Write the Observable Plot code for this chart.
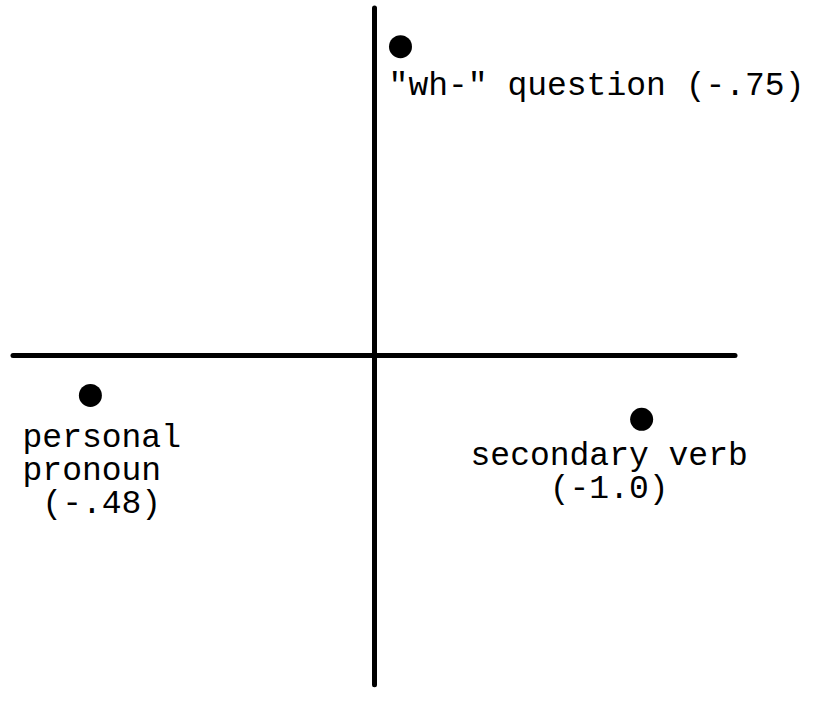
<!DOCTYPE html>
<html>
<head>
<meta charset="utf-8">
<script src="https://cdn.jsdelivr.net/npm/d3@7"></script>
<script src="https://cdn.jsdelivr.net/npm/@observablehq/plot@0.6"></script>
<style>
  html, body { margin: 0; padding: 0; background: #fff; }
  #chart svg { display: block; }
</style>
</head>
<body>
<div id="chart"></div>
<script>
// Factor-space positions of the features (arbitrary units, axes cross at 0,0)
const features = ["\"wh-\" question", "personal pronoun", "secondary verb"];
const loadings = ["-.75", "-.48", "-1.0"];
const featureX = [0.072, -0.787, 0.74];
const featureY = [0.89, -0.115, -0.184];
// label anchor positions (same units) and label text lines
const labelX = [0.039, -0.975, 0.266];
const labelY = [0.818, -0.196, -0.249];
const labelText = [
  "\"wh-\" question (-.75)",
  "personal\npronoun\n\u00A0(-.48)",
  "secondary verb\n\u00A0\u00A0\u00A0\u00A0(-1.0)"
];
// axis arms
const hArm = [-1, 1];
const vArm = [-0.95, 1];

const points = features.map((f, i) => ({name: f, loading: loadings[i], x: featureX[i], y: featureY[i]}));
const labels = features.map((f, i) => ({x: labelX[i], y: labelY[i], text: labelText[i]}));

const chart = Plot.plot({
  width: 815,
  height: 715,
  margin: 0,
  style: {background: "#fff"},
  x: {domain: [-1, 1], range: [13, 735], axis: null},
  y: {domain: [-1, 1], range: [702, 8], axis: null},
  marks: [
    Plot.ruleY([0], {x1: hArm[0], x2: hArm[1], stroke: "#000", strokeWidth: 5, strokeLinecap: "round"}),
    Plot.ruleX([0], {y1: vArm[0], y2: vArm[1], stroke: "#000", strokeWidth: 5, strokeLinecap: "round"}),
    Plot.dot(points, {x: "x", y: "y", r: 11.5, fill: "#000", stroke: "none"}),
    Plot.text(labels, {
      x: "x", y: "y", text: "text",
      textAnchor: "start", lineAnchor: "top", lineHeight: 1.0,
      fontSize: 33, fontFamily: "'Courier New', 'Liberation Mono', monospace",
      fill: "#000"
    })
  ]
});
document.getElementById("chart").appendChild(chart);
</script>
</body>
</html>
